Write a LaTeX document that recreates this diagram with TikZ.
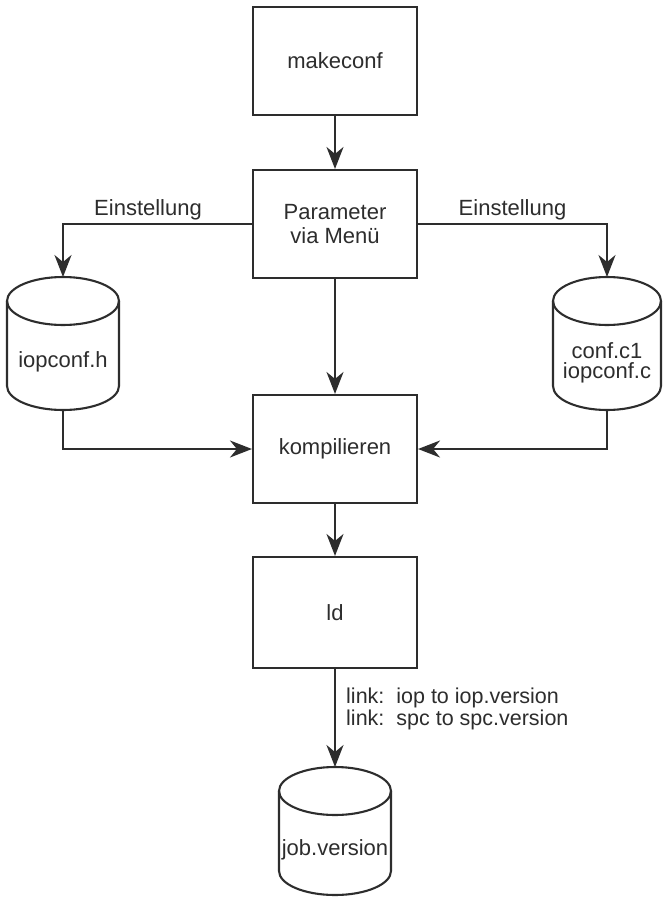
\documentclass[tikz,border=0pt]{standalone}
\usepackage{fontspec}
\setmainfont{Liberation Sans}
\usetikzlibrary{arrows.meta}
\definecolor{ink}{RGB}{45,45,45}
\definecolor{txt}{RGB}{45,45,45}
\begin{document}
\begin{tikzpicture}[x=1pt,y=-1pt,
  every node/.style={font=\fontsize{22}{24}\selectfont, text=txt},
  box/.style={draw=ink, line width=2.1pt, minimum width=164pt, inner sep=0pt, align=center},
  cyl/.style={draw=ink, line width=2.1pt},
  arr/.style={draw=ink, line width=2.1pt, -{Stealth[length=22pt,width=17pt,inset=7pt]}},
  lbl/.style={inner sep=0pt}]
\useasboundingbox[fill=white] (0,0) rectangle (662,899);

% boxes
\node[box, minimum height=108pt] (mk) at (335,61) {makeconf};
\node[box, minimum height=108pt] (par) at (335,224) {Parameter\\via Menü};
\node[box, minimum height=108pt] (komp) at (335,449) {kompilieren};
\node[box, minimum height=111pt] (ld) at (335,612.5) {ld};

% left cylinder
\draw[cyl] (63,301) ellipse[x radius=56, y radius=24];
\draw[cyl] (7,301) -- (7,386) arc[start angle=180, end angle=0, x radius=56, y radius=24] -- (119,301);
\coordinate (h-top) at (63,277);
\coordinate (h-bot) at (63,410);
\node[lbl] (h) at (63,362) {iopconf.h};

% right cylinder
\draw[cyl] (607,301) ellipse[x radius=54, y radius=24];
\draw[cyl] (553,301) -- (553,386) arc[start angle=180, end angle=0, x radius=54, y radius=24] -- (661,301);
\coordinate (c-top) at (607,277);
\coordinate (c-bot) at (607,410);
\node[lbl, align=center, font=\fontsize{22}{20.5}\selectfont] (c) at (607,363) {conf.c1\\iopconf.c};

% job cylinder
\draw[cyl] (335,791) ellipse[x radius=56, y radius=24];
\draw[cyl] (279,791) -- (279,871) arc[start angle=180, end angle=0, x radius=56, y radius=24] -- (391,791);
\coordinate (j-top) at (335,767);
\node[lbl] (j) at (335,850) {job.version};

% connectors
\draw[arr] (mk.south) -- (par.north);
\draw[arr] (par.south) -- (komp.north);
\draw[arr] (komp.south) -- (ld.north);
\draw[arr] (par.west) -- node[lbl, pos=0.55, yshift=14pt] (e1) {Einstellung} (par.west -| h-top) -- (h-top);
\draw[arr] (par.east) -- node[lbl, pos=0.5, yshift=14pt] (e2) {Einstellung} (par.east -| c-top) -- (c-top);
\draw[arr] (h-bot) |- (komp.west);
\draw[arr] (c-bot) |- (komp.east);
\draw[arr] (ld.south) -- (j-top);
\node[lbl, anchor=west, align=left, font=\fontsize{21.5}{22}\selectfont] (lk) at (346,709) {link:\ \ iop\ to\ iop.version\\link:\ \ spc\ to\ spc.version};
\end{tikzpicture}
\end{document}
